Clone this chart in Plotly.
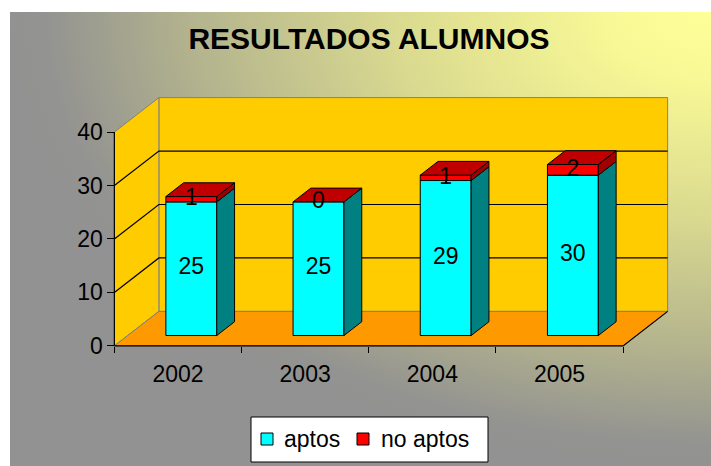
import base64
import plotly.graph_objects as go

# ---------------- data ----------------
years = ["2002", "2003", "2004", "2005"]
aptos = [25, 25, 29, 30]
no_aptos = [1, 0, 1, 2]
y_ticks = [0, 10, 20, 30, 40]
grid_vals = [10, 20, 30]
series_names = ["aptos", "no aptos"]
title_text = "RESULTADOS ALUMNOS"

# ---------------- style / 3D projection ----------------
DX, DY = 0.35, 6.45          # depth offset in data units (oblique projection)
HALF = 0.2                    # half bar width (category units)
DF, DB = 0.3, 0.7             # bar front / back depth fraction
YMAX = 40
FONT = "Arial, Liberation Sans, sans-serif"
C_FRONT = ["#00FFFF", "#FF0000"]
C_SIDE = ["#008080", "#A00000"]
C_TOP = "#C00000"

W, H = 711, 466
ML, MR, MT, MB = 108, 37, 96, 118
XR = [-0.55, 3.5 + DX + 0.05]
YR = [-0.4, YMAX + DY + 0.3]
pw, ph = W - ML - MR, H - MT - MB


def px2paper(x, y):
    return (x - ML) / pw, (H - MB - y) / ph


fig = go.Figure()


def poly(xs, ys, fill, line="black", width=1, name=None, legendgroup=None):
    fig.add_trace(go.Scatter(
        x=list(xs) + [xs[0]], y=list(ys) + [ys[0]], mode="lines",
        fill="toself", fillcolor=fill, line=dict(color=line, width=width),
        showlegend=False, hoverinfo="skip", name=name, legendgroup=legendgroup))


def lines(xs, ys, color="black", width=1):
    fig.add_trace(go.Scatter(x=xs, y=ys, mode="lines",
                             line=dict(color=color, width=width),
                             showlegend=False, hoverinfo="skip"))


n_cat = len(years)
x0, x1 = -0.5, n_cat - 0.5

# walls and floor
poly([x0 + DX, x1 + DX, x1 + DX, x0 + DX], [DY, DY, YMAX + DY, YMAX + DY], "#FFCC00", "#808080")
poly([x0, x0 + DX, x0 + DX, x0], [0, DY, YMAX + DY, YMAX], "#FFCC00", "#808080")
poly([x0, x1, x1 + DX, x0 + DX], [0, 0, DY, DY], "#FF9900", "#808080")

# gridlines (side wall + back wall)
gx, gy = [], []
for v in grid_vals:
    gx += [x0, x0 + DX, x1 + DX, None]
    gy += [v, v + DY, v + DY, None]
lines(gx, gy, width=1.2)

# axis lines
lines([x0, x0], [0, YMAX], width=1.2)
lines([x0, x1, x1 + DX], [0, 0, DY], width=1.2)

# bars
lab_x, lab_y, lab_t = [], [], []
for i, (a, n) in enumerate(zip(aptos, no_aptos)):
    xf0, xf1 = i - HALF + DF * DX, i + HALF + DF * DX
    xb0, xb1 = i - HALF + DB * DX, i + HALF + DB * DX
    yf, yb = DF * DY, DB * DY
    poly([xf0, xf1, xf1, xf0], [yf, yf, yf + a, yf + a], C_FRONT[0], name=series_names[0])
    poly([xf1, xb1, xb1, xf1], [yf, yb, yb + a, yf + a], C_SIDE[0], name=series_names[0])
    if n > 0:
        poly([xf0, xf1, xf1, xf0], [yf + a, yf + a, yf + a + n, yf + a + n], C_FRONT[1], name=series_names[1])
        poly([xf1, xb1, xb1, xf1], [yf + a, yb + a, yb + a + n, yf + a + n], C_SIDE[1], name=series_names[1])
    t = a + n
    poly([xf0, xf1, xb1, xb0], [yf + t, yf + t, yb + t, yb + t], C_TOP, name=series_names[1])
    xc = i + DF * DX
    lab_x += [xc, xc]
    lab_y += [yf + a / 2, yf + a + n / 2]
    lab_t += [str(a), str(n)]

fig.add_trace(go.Scatter(x=lab_x, y=lab_y, text=lab_t, mode="text",
                         textfont=dict(family=FONT, size=23, color="black"),
                         textposition="middle center", cliponaxis=False,
                         showlegend=False, hoverinfo="skip"))

# background gradient
svg = ("<svg xmlns='http://www.w3.org/2000/svg' width='701' height='454' preserveAspectRatio='none'>"
       "<defs><radialGradient id='g' cx='1' cy='0' r='1' fx='1' fy='0'>"
       "<stop offset='0' stop-color='#ffff99'/>"
       "<stop offset='0.15' stop-color='#f8f896'/>"
       "<stop offset='0.45' stop-color='#dada90'/>"
       "<stop offset='0.75' stop-color='#b2b28e'/>"
       "<stop offset='0.95' stop-color='#939391'/>"
       "<stop offset='1' stop-color='#929292'/>"
       "</radialGradient></defs><rect width='701' height='454' fill='url(#g)'/></svg>")
src = "data:image/svg+xml;base64," + base64.b64encode(svg.encode()).decode()
ix, iy = px2paper(10, 12)
fig.add_layout_image(dict(source=src, xref="paper", yref="paper",
                          x=ix, y=iy, sizex=701 / pw, sizey=454 / ph,
                          xanchor="left", yanchor="top", sizing="stretch",
                          layer="below"))

# legend (box, swatches, labels)
shapes = []
bx0, by0 = px2paper(251, 417)
bx1, by1 = px2paper(488, 462)
shapes.append(dict(type="rect", xref="paper", yref="paper", x0=bx0, y0=by1, x1=bx1, y1=by0,
                   fillcolor="white", line=dict(color="black", width=1), layer="above"))
annotations = []
leg_sw_x = [261, 357]
leg_tx_x = [282, 379]
for name, col, sx, tx in zip(series_names, C_FRONT, leg_sw_x, leg_tx_x):
    sx0, sy0 = px2paper(sx, 433)
    sx1, sy1 = px2paper(sx + 12, 445)
    shapes.append(dict(type="rect", xref="paper", yref="paper", x0=sx0, y0=sy1, x1=sx1, y1=sy0,
                       fillcolor=col, line=dict(color="black", width=1), layer="above"))
    ax, ay = px2paper(tx, 439)
    annotations.append(dict(text=name, xref="paper", yref="paper", x=ax, y=ay,
                            xanchor="left", yanchor="middle", showarrow=False,
                            font=dict(family=FONT, size=23, color="black")))

fig.update_layout(
    width=W, height=H,
    margin=dict(l=ML, r=MR, t=MT, b=MB, pad=0, autoexpand=False),
    paper_bgcolor="white", plot_bgcolor="rgba(0,0,0,0)",
    title=dict(text="<b>" + title_text + "</b>", x=369 / W, xref="container",
               y=1 - 38 / H, yref="container", xanchor="center", yanchor="middle",
               font=dict(family=FONT, size=30, color="black")),
    xaxis=dict(range=XR, tickvals=list(range(n_cat)), ticktext=years,
               ticks="outside", ticklen=8, tickcolor="rgba(0,0,0,0)",
               showgrid=False, zeroline=False, showline=False,
               tickfont=dict(family=FONT, size=23, color="black"),
               anchor="free", position=(0 - YR[0]) / (YR[1] - YR[0]),
               minor=dict(tickmode="array", tickvals=[k - 0.5 for k in range(n_cat + 1)],
                          ticks="outside", ticklen=6, tickcolor="black", showgrid=False),
               fixedrange=True),
    yaxis=dict(range=YR, tickvals=y_ticks, ticks="outside", ticklen=7,
               tickcolor="black", showgrid=False, zeroline=False, showline=False,
               tickfont=dict(family=FONT, size=23, color="black"),
               anchor="free", position=(x0 - XR[0]) / (XR[1] - XR[0]),
               fixedrange=True),
    shapes=shapes, annotations=annotations,
    showlegend=False,
)

fig.write_html("out.html", config={"displayModeBar": False},
               post_script="document.body.style.margin='0';")
